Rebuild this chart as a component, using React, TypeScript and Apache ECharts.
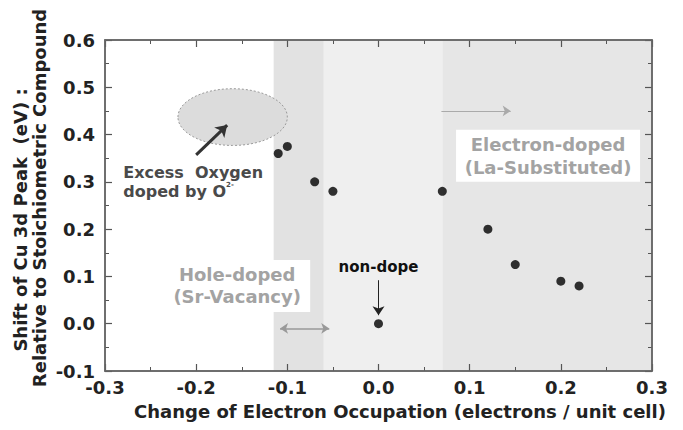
import React, { useEffect, useRef } from "react";
import * as echarts from "echarts";

// Measured Cu 3d peak shifts versus change of electron occupation
const occupation = [-0.11, -0.1, -0.07, -0.05, 0.0, 0.07, 0.12, 0.15, 0.2, 0.22];
const peakShift = [0.36, 0.375, 0.3, 0.28, 0.0, 0.28, 0.2, 0.125, 0.09, 0.08];

// Doping regions along the occupation axis
const bandStarts = [-0.115, -0.06, 0.07];
const bandEnds = [-0.06, 0.07, 0.3];
const bandColors = ["#e2e2e2", "#efefef", "#e6e6e6"];

const X_MIN = -0.3;
const X_MAX = 0.3;
const Y_MIN = -0.1;
const Y_MAX = 0.6;

const FONT = "DejaVu Sans";

const fmt = (v: number) => (Math.abs(v) < 1e-9 ? "0.0" : v.toFixed(1));

// Frame axis: ticks point inward, labels only on bottom/left
const makeAxis = (position: string, isX: boolean, withLabels: boolean) => ({
  type: "value",
  position,
  z: 50,
  min: isX ? X_MIN : Y_MIN,
  max: isX ? X_MAX : Y_MAX,
  interval: 0.1,
  axisLine: { show: true, onZero: false, lineStyle: { color: "#666", width: 1.5 } },
  axisTick: { show: true, inside: true, length: 7, lineStyle: { color: "#555", width: 1.2 } },
  minorTick: { show: true, splitNumber: 2, length: 4, lineStyle: { color: "#555", width: 1 } },
  splitLine: { show: false },
  axisLabel: withLabels
    ? {
        show: true,
        fontFamily: FONT,
        fontWeight: "bold",
        fontSize: 18,
        color: "#222",
        margin: isX ? 7 : 10,
        formatter: fmt,
      }
    : { show: false },
});

export default function App() {
  const ref = useRef<HTMLDivElement>(null);

  useEffect(() => {
    if (!ref.current) return;
    const chart = echarts.init(ref.current, null, { renderer: "svg" });

    const arrow = (
      from: number[],
      to: number[],
      color: string,
      width: number,
      both: boolean,
      size: number
    ) => [
      {
        coord: from,
        symbol: both ? "arrow" : "none",
        symbolSize: size,
        lineStyle: { color, width, type: "solid" },
      },
      { coord: to, symbol: "arrow", symbolSize: size },
    ];

    chart.setOption({
      animation: false,
      grid: { left: 105, right: 31, top: 40, bottom: 59 },
      xAxis: [makeAxis("bottom", true, true), makeAxis("top", true, false)],
      yAxis: [makeAxis("left", false, true), makeAxis("right", false, false)],
      series: [
        {
          type: "scatter",
          z: 2,
          symbol: "circle",
          symbolSize: 9,
          itemStyle: { color: "#000" },
          data: occupation.map((x, i) => [x, peakShift[i]]),
          markArea: {
            silent: true,
            z: 1,
            label: { show: false },
            data: bandStarts.map((s, i) => [
              { xAxis: s, itemStyle: { color: bandColors[i] } },
              { xAxis: bandEnds[i] },
            ]),
          },
          markLine: {
            silent: true,
            z: 3,
            label: { show: false },
            data: [
              arrow([-0.2, 0.357], [-0.166, 0.42], "#333", 3, false, 11),
              arrow([0.069, 0.45], [0.145, 0.45], "#aaa", 1, false, 8),
              arrow([-0.108, -0.01], [-0.054, -0.01], "#999", 1.5, true, 8),
              arrow([0.0, 0.092], [0.0, 0.018], "#222", 1, false, 9),
            ],
          },
        },
      ],
    });

    const px = (x: number, y: number) =>
      chart.convertToPixel({ xAxisIndex: 0, yAxisIndex: 0 }, [x, y]) as number[];

    const ellC = px(-0.16, 0.437);
    const ellE = px(-0.1, 0.497);
    const holeC = px(-0.155, 0.08);
    const elecC = px(0.186, 0.355);
    const noneC = px(0.0, 0.12);
    const excessP = px(-0.28, 0.3);
    const frameTL = px(X_MIN, Y_MAX);
    const frameBR = px(X_MAX, Y_MIN);

    chart.setOption({
      graphic: [
        {
          type: "ellipse",
          z: 1,
          shape: {
            cx: ellC[0],
            cy: ellC[1],
            rx: ellE[0] - ellC[0],
            ry: ellC[1] - ellE[1],
          },
          style: { fill: "#dcdcdc", stroke: "#9a9a9a", lineWidth: 1, lineDash: [2, 2] },
        },
        {
          type: "text",
          z: 6,
          x: excessP[0],
          y: excessP[1],
          style: {
            text: "Excess  Oxygen\ndoped by O{sup|2-}",
            fontFamily: FONT,
            fontWeight: "bold",
            fontSize: 16,
            lineHeight: 19,
            fill: "#4a4a4a",
            textAlign: "left",
            textVerticalAlign: "middle",
            rich: {
              sup: {
                fontFamily: FONT,
                fontWeight: "bold",
                fontSize: 7,
                fill: "#4a4a4a",
                verticalAlign: "top",
              },
            },
          },
        },
        {
          type: "rect",
          z: 6,
          shape: { x: holeC[0] - 72, y: holeC[1] - 26, width: 145, height: 52 },
          style: { fill: "#ffffff" },
        },
        {
          type: "text",
          z: 7,
          x: holeC[0],
          y: holeC[1],
          style: {
            text: "Hole-doped\n(Sr-Vacancy)",
            fontFamily: FONT,
            fontWeight: "bold",
            fontSize: 18,
            lineHeight: 22,
            fill: "#a3a3a3",
            textAlign: "center",
            textVerticalAlign: "middle",
          },
        },
        {
          type: "rect",
          z: 6,
          shape: { x: elecC[0] - 92, y: elecC[1] - 26, width: 184, height: 52 },
          style: { fill: "#ffffff" },
        },
        {
          type: "text",
          z: 7,
          x: elecC[0],
          y: elecC[1],
          style: {
            text: "Electron-doped\n(La-Substituted)",
            fontFamily: FONT,
            fontWeight: "bold",
            fontSize: 18,
            lineHeight: 23,
            fill: "#a3a3a3",
            textAlign: "center",
            textVerticalAlign: "middle",
          },
        },
        {
          type: "text",
          z: 7,
          x: noneC[0],
          y: noneC[1],
          style: {
            text: "non-dope",
            fontFamily: FONT,
            fontWeight: "bold",
            fontSize: 15,
            fill: "#111",
            textAlign: "center",
            textVerticalAlign: "middle",
          },
        },
        {
          type: "rect",
          z: 100,
          silent: true,
          shape: {
            x: frameTL[0],
            y: frameTL[1],
            width: frameBR[0] - frameTL[0],
            height: frameBR[1] - frameTL[1],
          },
          style: { fill: "none", stroke: "#666", lineWidth: 1.5 },
        },
        {
          type: "text",
          z: 7,
          x: 20,
          y: 220,
          rotation: Math.PI / 2,
          style: {
            text: "Shift of Cu 3d Peak  (eV) :",
            fontFamily: FONT,
            fontWeight: "bold",
            fontSize: 18,
            fill: "#222",
            textAlign: "center",
            textVerticalAlign: "middle",
          },
        },
        {
          type: "text",
          z: 7,
          x: 39,
          y: 198,
          rotation: Math.PI / 2,
          style: {
            text: "Relative to Stoichiometric Compound",
            fontFamily: FONT,
            fontWeight: "bold",
            fontSize: 18,
            fill: "#222",
            textAlign: "center",
            textVerticalAlign: "middle",
          },
        },
        {
          type: "text",
          z: 7,
          x: 400,
          y: 411,
          style: {
            text: "Change of Electron Occupation (electrons / unit cell)",
            fontFamily: FONT,
            fontWeight: "bold",
            fontSize: 18,
            fill: "#222",
            textAlign: "center",
            textVerticalAlign: "middle",
          },
        },
      ],
    });

    return () => chart.dispose();
  }, []);

  return (
    <div
      ref={ref}
      style={{ position: "fixed", left: 0, top: 0, width: 683, height: 430, background: "#fff" }}
    />
  );
}
